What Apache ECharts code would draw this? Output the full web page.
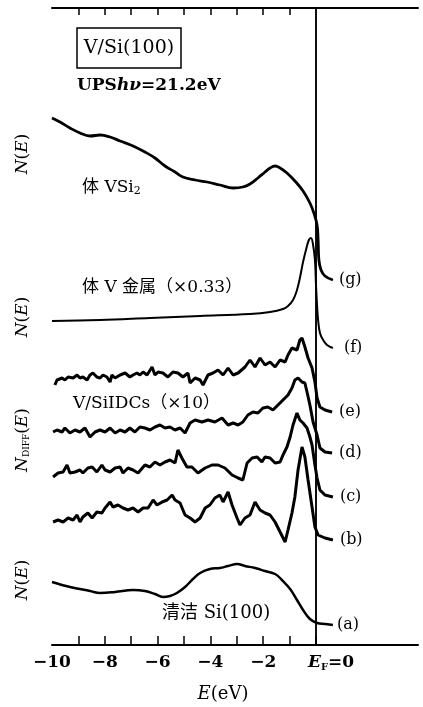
<!DOCTYPE html>
<html>
<head>
<meta charset="utf-8">
<script src="https://cdn.jsdelivr.net/npm/echarts@6/dist/echarts.min.js"></script>
<style>
html, body { margin: 0; background: #fff; }
#main { width: 423px; height: 707px; }
</style>
</head>
<body>
<div id="main"></div>
<script>
// energy below E_F (eV) and intensity (arb. units, curves offset)
const vsi2E = [-10, -9.70, -9.32, -8.94, -8.56, -8.18, -7.80, -7.42, -6.93, -6.48, -6.10, -5.72, -5.34, -5.04, -4.58, -4.13, -3.64, -3.14, -2.77, -2.50, -2.20, -1.93, -1.74, -1.55, -1.36, -1.10, -0.80, -0.49, -0.23, -0.08, 0.04, 0.08, 0.11, 0.19, 0.34, 0.64]
const vsi2N = [527, 523, 517, 512, 509, 510, 508, 504, 499, 493, 487, 479, 473, 468, 465, 463, 460, 457, 458, 461, 467, 473, 477, 479, 477, 472, 464, 454, 442, 432, 420, 405, 385, 375, 369, 365]

const vmetE = [-10, -8.18, -6.29, -4.39, -2.50, -1.74, -1.25, -1.06, -0.87, -0.72, -0.61, -0.49, -0.38, -0.27, -0.19, -0.11, -0.04, 0, 0.04, 0.08, 0.15, 0.27, 0.42, 0.64]
const vmetN = [324, 325, 327, 329, 331, 333, 336, 339, 345, 355, 367, 383, 395, 405, 407, 400, 385, 360, 340, 325, 312, 305, 300, 297]

const curveEE = [-9.89, -9.81, -9.62, -9.51, -9.39, -9.20, -9.05, -8.94, -8.83, -8.67, -8.56, -8.45, -8.30, -8.18, -8.07, -7.92, -7.80, -7.73, -7.61, -7.42, -7.23, -7.05, -6.93, -6.78, -6.67, -6.55, -6.40, -6.21, -6.10, -5.98, -5.80, -5.61, -5.42, -5.23, -5.04, -4.85, -4.77, -4.58, -4.39, -4.28, -4.09, -3.90, -3.71, -3.52, -3.33, -3.14, -2.95, -2.69, -2.50, -2.31, -2.12, -1.93, -1.74, -1.55, -1.36, -1.17, -1.06, -0.91, -0.72, -0.61, -0.53, -0.42, -0.30, -0.15, -0.04, 0.04, 0.15, 0.34, 0.61]
const curveEN = [260, 265, 267, 265, 268, 267, 270, 267, 268, 265, 270, 272, 268, 267, 270, 268, 263, 270, 267, 270, 272, 268, 270, 272, 270, 273, 270, 278, 270, 273, 272, 268, 273, 272, 268, 272, 262, 267, 265, 260, 270, 272, 275, 270, 277, 270, 272, 278, 285, 278, 287, 280, 283, 278, 285, 283, 290, 297, 295, 305, 307, 298, 287, 277, 263, 247, 238, 235, 233]

const curveDE = [-9.96, -9.81, -9.62, -9.51, -9.32, -9.13, -8.94, -8.75, -8.56, -8.37, -8.18, -7.99, -7.80, -7.61, -7.42, -7.23, -7.05, -6.86, -6.67, -6.48, -6.29, -6.10, -5.91, -5.72, -5.53, -5.34, -5.15, -4.96, -4.77, -4.58, -4.32, -4.09, -3.83, -3.56, -3.33, -3.14, -2.95, -2.77, -2.58, -2.39, -2.20, -2.01, -1.82, -1.63, -1.44, -1.25, -1.06, -0.91, -0.80, -0.68, -0.53, -0.42, -0.34, -0.23, -0.11, 0.04, 0.15, 0.34, 0.61]
const curveDN = [213, 215, 213, 217, 212, 215, 213, 217, 208, 213, 215, 213, 217, 212, 215, 213, 217, 213, 218, 217, 215, 218, 220, 217, 218, 215, 217, 212, 222, 225, 223, 225, 223, 227, 220, 222, 220, 223, 230, 233, 232, 237, 238, 235, 240, 245, 250, 257, 265, 267, 263, 262, 253, 240, 223, 210, 197, 193, 192]

const curveCE = [-9.96, -9.77, -9.58, -9.43, -9.32, -9.13, -8.94, -8.83, -8.64, -8.48, -8.30, -8.11, -7.99, -7.80, -7.61, -7.42, -7.31, -7.12, -6.93, -6.74, -6.48, -6.29, -6.10, -5.91, -5.72, -5.53, -5.34, -5.23, -5.08, -4.89, -4.70, -4.47, -4.20, -3.94, -3.71, -3.45, -3.18, -2.95, -2.77, -2.61, -2.42, -2.23, -2.05, -1.93, -1.74, -1.55, -1.36, -1.25, -1.10, -0.98, -0.87, -0.72, -0.61, -0.49, -0.34, -0.23, -0.15, -0.04, 0.04, 0.15, 0.34, 0.64]
const curveCN = [168, 172, 173, 180, 172, 173, 175, 172, 177, 178, 173, 180, 175, 173, 177, 178, 172, 177, 175, 172, 180, 178, 183, 180, 183, 185, 182, 195, 187, 178, 178, 172, 177, 180, 180, 177, 170, 167, 165, 182, 187, 188, 183, 188, 187, 182, 183, 190, 198, 208, 220, 232, 225, 222, 217, 208, 200, 180, 167, 155, 150, 148]

const curveBE = [-9.96, -9.77, -9.58, -9.39, -9.20, -9.05, -8.94, -8.83, -8.64, -8.48, -8.30, -8.11, -7.99, -7.80, -7.69, -7.50, -7.31, -7.12, -6.93, -6.74, -6.55, -6.36, -6.17, -6.02, -5.83, -5.64, -5.45, -5.34, -5.15, -4.96, -4.77, -4.58, -4.39, -4.20, -4.02, -3.83, -3.64, -3.52, -3.33, -3.18, -2.99, -2.88, -2.69, -2.50, -2.31, -2.12, -1.93, -1.74, -1.55, -1.36, -1.17, -1.06, -0.91, -0.80, -0.68, -0.53, -0.42, -0.30, -0.15, -0.04, 0.08, 0.34, 0.64]
const curveBN = [123, 125, 123, 127, 125, 130, 123, 128, 132, 127, 133, 132, 137, 143, 138, 140, 137, 135, 137, 133, 137, 137, 145, 140, 143, 145, 150, 145, 142, 130, 127, 123, 127, 137, 140, 147, 150, 143, 153, 140, 127, 120, 127, 130, 143, 135, 132, 130, 123, 113, 103, 115, 132, 148, 175, 198, 188, 165, 138, 118, 110, 107, 105]

const siE = [-10, -9.32, -8.56, -8.18, -7.61, -6.93, -6.48, -6.10, -5.80, -5.53, -5.27, -4.96, -4.66, -4.39, -4.02, -3.64, -3.33, -2.99, -2.69, -2.31, -1.93, -1.55, -1.29, -0.98, -0.72, -0.49, -0.23, 0.04, 0.34, 0.64]
const siN = [63, 58, 54, 52, 53, 55, 54, 51, 48, 49, 52, 58, 66, 72, 76, 77, 79, 81, 79, 77, 74, 71, 65, 56, 45, 35, 26, 22, 21, 20]

const curveTags = ['(g)', '(f)', '(e)', '(d)', '(c)', '(b)', '(a)']
const bottomLabels = [-10, -8, -6, -4, -2, 0]
const topTicks = [-9, -8, -7, -6, -5, -4, -3, -2, -1]
const bottomTicks = [-9, -8, -7, -6, -5, -4, -3, -2, -1, 0]

const SERIF = '"DejaVu Serif", "Liberation Serif", "Noto Sans CJK SC", serif'
const zip = (a, b) => a.map((v, i) => [v, b[i]])

const chart = echarts.init(document.getElementById('main'))

function curve(name, e, n, width, smooth, tag, dist) {
  return {
    name: name,
    type: 'line',
    data: zip(e, n),
    showSymbol: false,
    smooth: smooth,
    lineStyle: { color: '#000', width: width },
    endLabel: {
      show: true,
      formatter: tag,
      distance: dist,
      color: '#000',
      fontFamily: SERIF,
      fontSize: 16
    },
    z: 3
  }
}

const series = [
  curve('VSi2', vsi2E, vsi2N, 2.8, 0.4, curveTags[0], 6),
  curve('V', vmetE, vmetN, 2, 0.4, curveTags[1], 11),
  curve('e', curveEE, curveEN, 3, false, curveTags[2], 7),
  curve('d', curveDE, curveDN, 3, false, curveTags[3], 7),
  curve('c', curveCE, curveCN, 3, false, curveTags[4], 7),
  curve('b', curveBE, curveBN, 3, false, curveTags[5], 7),
  curve('Si', siE, siN, 2.5, 0.4, curveTags[6], 4)
]
// Fermi level line
series[0].markLine = {
  silent: true,
  symbol: 'none',
  label: { show: false },
  lineStyle: { color: '#000', width: 1.5, type: 'solid' },
  data: [{ xAxis: 0 }]
}

const option = {
  animation: false,
  backgroundColor: '#fff',
  grid: { left: 52, right: 5, top: 8, bottom: 62 },
  xAxis: [{
    type: 'value',
    min: -10,
    max: 3.864,
    interval: 1,
    splitLine: { show: false },
    axisLine: { lineStyle: { color: '#000', width: 2 } },
    axisTick: { inside: true, length: 9, customValues: bottomTicks, lineStyle: { color: '#000', width: 1.5 } },
    axisLabel: {
      customValues: bottomLabels,
      margin: 9,
      color: '#000',
      fontFamily: SERIF,
      fontSize: 17,
      fontWeight: 'bold',
      formatter: v => v === 0 ? '{gap|}{i|E}{s|F}{n|=0}' : '−' + Math.abs(v),
      rich: {
        gap: { width: 30 },
        i: { fontStyle: 'italic', fontFamily: SERIF, fontSize: 17 },
        s: { fontFamily: SERIF, fontSize: 10, verticalAlign: 'bottom', padding: [8, 0, 0, 0] },
        n: { fontFamily: SERIF, fontSize: 17 }
      }
    }
  }, {
    type: 'value',
    position: 'top',
    min: -10,
    max: 3.864,
    interval: 1,
    splitLine: { show: false },
    axisLine: { lineStyle: { color: '#000', width: 2 } },
    axisTick: { inside: true, length: 7, customValues: topTicks, lineStyle: { color: '#000', width: 1.5 } },
    axisLabel: { show: false }
  }],
  yAxis: {
    type: 'value',
    min: 0,
    max: 637,
    splitLine: { show: false },
    axisTick: { show: false },
    axisLabel: { show: false },
    axisLine: { show: true, lineStyle: { color: '#000', width: 1.5 } }
  },
  series: series,
  graphic: [
    { type: 'rect', shape: { x: 77, y: 28, width: 104, height: 40 }, style: { fill: 'none', stroke: '#000', lineWidth: 1.5 } },
    { type: 'text', x: 129, y: 48, style: { text: 'V/Si(100)', font: '19px ' + SERIF, fill: '#000', align: 'center', verticalAlign: 'middle' } },
    {
      type: 'text', x: 77, y: 86,
      style: {
        text: '{b|UPS}{bi|hν}{b|=21.2eV}', verticalAlign: 'middle', fill: '#000',
        rich: {
          b: { fontFamily: SERIF, fontSize: 17, fontWeight: 'bold' },
          bi: { fontFamily: SERIF, fontSize: 17, fontWeight: 'bold', fontStyle: 'italic' }
        }
      }
    },
    {
      type: 'text', x: 82, y: 188,
      style: {
        text: '{n|体 VSi}{s|2}', verticalAlign: 'middle', fill: '#000',
        rich: { n: { fontFamily: SERIF, fontSize: 17 }, s: { fontFamily: SERIF, fontSize: 11, verticalAlign: 'bottom', padding: [6, 0, 0, 0] } }
      }
    },
    { type: 'text', x: 82, y: 288, style: { text: '体 V 金属（×0.33）', font: '17px ' + SERIF, fill: '#000', verticalAlign: 'middle' } },
    { type: 'text', x: 73, y: 404, style: { text: 'V/SiIDCs（×10）', font: '17px ' + SERIF, fill: '#000', verticalAlign: 'middle' } },
    { type: 'text', x: 162, y: 613, style: { text: '清洁 Si(100)', font: '18px ' + SERIF, fill: '#000', verticalAlign: 'middle' } },
    {
      type: 'text', x: 223, y: 694,
      style: {
        text: '{i|E}{n|(eV)}', align: 'center', verticalAlign: 'middle', fill: '#000',
        rich: { i: { fontFamily: SERIF, fontSize: 18, fontStyle: 'italic' }, n: { fontFamily: SERIF, fontSize: 18 } }
      }
    },
    { type: 'text', x: 23, y: 154, rotation: Math.PI / 2, style: { text: '{i|N}{n|(}{i|E}{n|)}', align: 'center', verticalAlign: 'middle', fill: '#000', rich: { i: { fontFamily: SERIF, fontSize: 17, fontStyle: 'italic' }, n: { fontFamily: SERIF, fontSize: 17 } } } },
    { type: 'text', x: 23, y: 317, rotation: Math.PI / 2, style: { text: '{i|N}{n|(}{i|E}{n|)}', align: 'center', verticalAlign: 'middle', fill: '#000', rich: { i: { fontFamily: SERIF, fontSize: 17, fontStyle: 'italic' }, n: { fontFamily: SERIF, fontSize: 17 } } } },
    { type: 'text', x: 23, y: 440, rotation: Math.PI / 2, style: { text: '{i|N}{s|DIFF}{n|(}{i|E}{n|)}', align: 'center', verticalAlign: 'middle', fill: '#000', rich: { i: { fontFamily: SERIF, fontSize: 17, fontStyle: 'italic' }, n: { fontFamily: SERIF, fontSize: 17 }, s: { fontFamily: SERIF, fontSize: 9, verticalAlign: 'bottom', padding: [8, 0, 0, 0] } } } },
    { type: 'text', x: 23, y: 580, rotation: Math.PI / 2, style: { text: '{i|N}{n|(}{i|E}{n|)}', align: 'center', verticalAlign: 'middle', fill: '#000', rich: { i: { fontFamily: SERIF, fontSize: 17, fontStyle: 'italic' }, n: { fontFamily: SERIF, fontSize: 17 } } } }
  ]
}

chart.setOption(option)
</script>
</body>
</html>
